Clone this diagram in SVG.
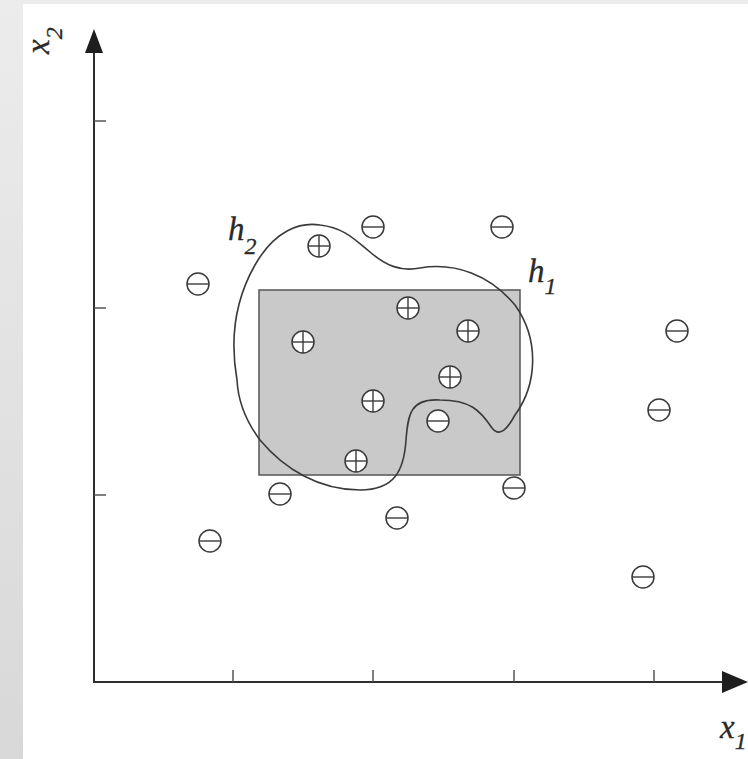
<svg xmlns="http://www.w3.org/2000/svg" width="748" height="759" viewBox="0 0 748 759">
<defs>
<linearGradient id="bg" x1="0" y1="0" x2="0" y2="1">
<stop offset="0" stop-color="#ececec"/>
<stop offset="1" stop-color="#d8d8d8"/>
</linearGradient>
<g id="minus"><circle r="11" class="pt"/><line x1="-11" y1="0" x2="11" y2="0" class="pl"/></g>
<g id="plus"><circle r="11" class="pt"/><line x1="-11" y1="0" x2="11" y2="0" class="pl"/><line x1="0" y1="-11" x2="0" y2="11" class="pl"/></g>
</defs>
<style>
.pt{fill:#fff;stroke:#3a3a3a;stroke-width:1.5}
.pl{stroke:#3a3a3a;stroke-width:1.4}
.ax{stroke:#2e2e2e;stroke-width:2;fill:none}
.tk{stroke:#555;stroke-width:1.5}
.lb{font-family:"Liberation Serif","Times New Roman",serif;font-style:italic;fill:#2a2a2a;stroke:#2a2a2a;stroke-width:0.3}
</style>
<rect x="0" y="0" width="748" height="759" fill="url(#bg)"/>
<rect x="23" y="4" width="725" height="755" fill="#fff"/>

<g id="axes">
<line class="ax" x1="94" y1="50" x2="94" y2="682"/>
<line class="ax" x1="93" y1="682" x2="724" y2="682"/>
<polygon points="94,29 85,53 103,53" fill="#1e1e1e"/>
<polygon points="748,682 722,671 722,693" fill="#1e1e1e"/>
<line class="tk" x1="94" y1="121" x2="106" y2="121"/>
<line class="tk" x1="94" y1="308" x2="106" y2="308"/>
<line class="tk" x1="94" y1="495" x2="106" y2="495"/>
<line class="tk" x1="233" y1="670" x2="233" y2="682"/>
<line class="tk" x1="373" y1="670" x2="373" y2="682"/>
<line class="tk" x1="514" y1="670" x2="514" y2="682"/>
<line class="tk" x1="654" y1="670" x2="654" y2="682"/>
</g>

<g id="h1">
<rect x="259" y="290" width="261" height="185" fill="#c9c9ca" stroke="#555" stroke-width="1.5"/>
</g>

<g id="h2">
<path d="M 237,380 C 230,340 235,300 255,265 C 275,230 300,222 320,225 C 345,228 355,240 370,252 C 385,265 400,272 420,268 C 455,262 490,275 515,305 C 540,340 537,385 515,415 C 508,428 500,438 492,428 C 480,410 470,400 440,400 C 410,398 408,415 406,440 C 404,470 395,490 360,490 C 320,490 285,470 260,440 C 245,420 238,400 237,380 Z" fill="none" stroke="#3a3a3a" stroke-width="1.6"/>
</g>

<g id="points">
<use href="#minus" x="198" y="284"/>
<use href="#minus" x="373" y="227"/>
<use href="#minus" x="502" y="227"/>
<use href="#minus" x="677" y="331"/>
<use href="#minus" x="659" y="410"/>
<use href="#minus" x="280" y="494"/>
<use href="#minus" x="514" y="488"/>
<use href="#minus" x="397" y="518"/>
<use href="#minus" x="210" y="541"/>
<use href="#minus" x="643" y="577"/>
<use href="#minus" x="438" y="421"/>
<use href="#plus" x="319" y="246"/>
<use href="#plus" x="408" y="308"/>
<use href="#plus" x="468" y="331"/>
<use href="#plus" x="303" y="342"/>
<use href="#plus" x="450" y="377"/>
<use href="#plus" x="373" y="401"/>
<use href="#plus" x="356" y="461"/>
</g>

<g id="labels">
<text class="lb" x="228" y="240" font-size="33">h<tspan font-size="24" dy="14">2</tspan></text>
<text class="lb" x="528" y="282" font-size="33">h<tspan font-size="24" dy="12">1</tspan></text>
<text class="lb" x="720" y="738" font-size="33">x<tspan font-size="24" dy="11">1</tspan></text>
<text class="lb" transform="translate(49,54) rotate(-90)" font-size="33">x<tspan font-size="24" dy="13">2</tspan></text>
</g>
</svg>
